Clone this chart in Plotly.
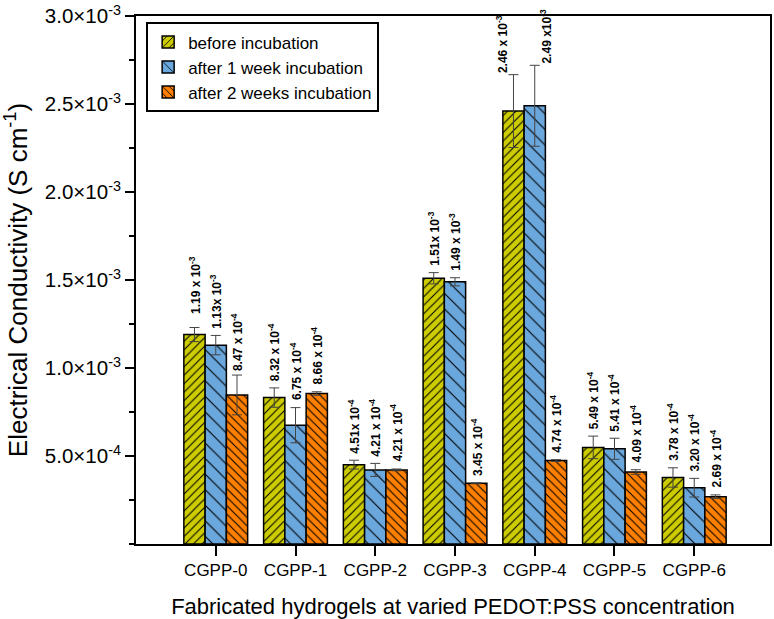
import plotly.graph_objects as go

categories = ["CGPP-0", "CGPP-1", "CGPP-2", "CGPP-3", "CGPP-4", "CGPP-5", "CGPP-6"]
series_names = ["before incubation", "after 1 week incubation", "after 2 weeks incubation"]

before = [1.19e-3, 8.32e-4, 4.51e-4, 1.51e-3, 2.46e-3, 5.49e-4, 3.78e-4]
week1 = [1.13e-3, 6.75e-4, 4.21e-4, 1.49e-3, 2.49e-3, 5.41e-4, 3.20e-4]
week2 = [8.47e-4, 8.55e-4, 4.21e-4, 3.45e-4, 4.74e-4, 4.09e-4, 2.69e-4]

before_err = [4.0e-5, 5.5e-5, 2.5e-5, 3.2e-5, 2.07e-4, 6.4e-5, 5.5e-5]
week1_err = [5.5e-5, 1.0e-4, 3.7e-5, 2.3e-5, 2.3e-4, 6.0e-5, 5.3e-5]
week2_err = [1.13e-4, 1.0e-5, 5.0e-6, 3.0e-6, 5.0e-6, 1.3e-5, 1.0e-5]

before_labels = ["1.19 x 10<sup>-3</sup>", "8.32 x 10<sup>-4</sup>", "4.51x 10<sup>-4</sup>",
                 "1.51x 10<sup>-3</sup>", "2.46 x 10<sup>-3</sup>", "5.49 x 10<sup>-4</sup>",
                 "3.78 x 10<sup>-4</sup>"]
week1_labels = ["1.13x 10<sup>-3</sup>", "6.75 x 10<sup>-4</sup>", "4.21 x 10<sup>-4</sup>",
                "1.49 x 10<sup>-3</sup>", "2.49 x10<sup>-3</sup>", "5.41 x 10<sup>-4</sup>",
                "3.20 x 10<sup>-4</sup>"]
week2_labels = ["8.47 x 10<sup>-4</sup>", "8.66 x 10<sup>-4</sup>", "4.21 x 10<sup>-4</sup>",
                "3.45 x 10<sup>-4</sup>", "4.74 x 10<sup>-4</sup>", "4.09 x 10<sup>-4</sup>",
                "2.69 x 10<sup>-4</sup>"]

y_tickvals = [5e-4, 1e-3, 1.5e-3, 2e-3, 2.5e-3, 3e-3]
y_ticktext = ["5.0×10<sup>-4</sup>", "1.0×10<sup>-3</sup>", "1.5×10<sup>-3</sup>",
              "2.0×10<sup>-3</sup>", "2.5×10<sup>-3</sup>", "3.0×10<sup>-3</sup>"]

FONT = "Liberation Sans, Arial, sans-serif"
styles = [
    dict(color="#cccc00", shape="/", size=6, solidity=0.18),
    dict(color="#6aa7dc", shape="\\", size=11, solidity=0.1),
    dict(color="#ff8000", shape="\\", size=6, solidity=0.18),
]
# label placement tweaks (pixel shifts), style only
label_xshift = {(0, 4): -12, (1, 4): 11}
label_yshift = {(0, 0): 12, (0, 4): 0, (1, 4): 0, (2, 0): 2}

xs = list(range(len(categories)))
all_vals = [before, week1, week2]
all_errs = [before_err, week1_err, week2_err]
all_labels = [before_labels, week1_labels, week2_labels]

fig = go.Figure()
for s, (vals, errs, st) in enumerate(zip(all_vals, all_errs, styles)):
    fig.add_trace(go.Bar(
        x=xs, y=vals, name=series_names[s],
        marker=dict(color=st["color"], line=dict(color="black", width=1.5),
                    pattern=dict(shape=st["shape"], size=st["size"], solidity=st["solidity"],
                                 fgcolor="black", bgcolor=st["color"], fillmode="replace")),
        error_y=dict(type="data", array=errs, visible=True, color="#444444", thickness=1, width=5),
    ))

offsets = [-0.8 / 3, 0, 0.8 / 3]
annotations = []
for s in range(3):
    for i in xs:
        annotations.append(dict(
            x=i + offsets[s], y=all_vals[s][i] + all_errs[s][i],
            xref="x", yref="y", text=all_labels[s][i], showarrow=False,
            textangle=-90, xanchor="center", yanchor="bottom",
            xshift=label_xshift.get((s, i), 0), yshift=label_yshift.get((s, i), 5),
            font=dict(family=FONT, size=12, color="black", weight="bold"),
        ))

fig.update_layout(
    width=774, height=619,
    margin=dict(l=136, r=2, t=12, b=75),
    paper_bgcolor="white", plot_bgcolor="white",
    barmode="group", bargap=0.2, bargroupgap=0,
    font=dict(family=FONT, color="black"),
    annotations=annotations,
    showlegend=True,
    legend=dict(x=0.016, y=0.988, xanchor="left", yanchor="top",
                bgcolor="white", bordercolor="black", borderwidth=2,
                font=dict(family=FONT, size=17, color="black"),
                tracegroupgap=0),
    xaxis=dict(range=[-1, 6.95], tickmode="array", tickvals=xs, ticktext=categories,
               showline=True, linecolor="black", linewidth=2, mirror=True,
               ticks="outside", ticklen=10, tickwidth=1.5, tickcolor="black",
               tickfont=dict(family=FONT, size=17), showgrid=False, zeroline=False,
               title=dict(text="Fabricated hydrogels at varied PEDOT:PSS concentration",
                          font=dict(family=FONT, size=22), standoff=20)),
    yaxis=dict(range=[0, 3.0002e-3], tickmode="array", tickvals=y_tickvals, ticktext=y_ticktext,
               showline=True, linecolor="black", linewidth=2, mirror=True,
               ticks="outside", ticklen=9, tickwidth=1.5, tickcolor="black",
               tickfont=dict(family=FONT, size=20.5), showgrid=False, zeroline=False,
               ticklabeloverflow="allow",
               minor=dict(tickmode="linear", tick0=0, dtick=2.5e-4, ticks="outside",
                          ticklen=5, tickwidth=1.5, tickcolor="black", showgrid=False),
               title=dict(text="Electrical Conductivity (S cm<sup>-1</sup>)",
                          font=dict(family=FONT, size=26), standoff=10)),
)

fig.write_html("out.html")
